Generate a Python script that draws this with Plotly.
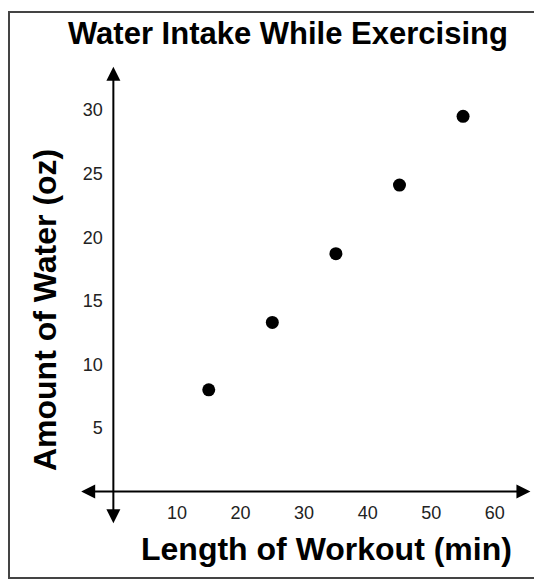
import plotly.graph_objects as go

# Data
workout_min = [15, 25, 35, 45, 55]
water_oz = [8.0, 13.3, 18.7, 24.1, 29.5]
x_ticks = [10, 20, 30, 40, 50, 60]
y_ticks = [5, 10, 15, 20, 25, 30]

title_text = "Water Intake While Exercising"
x_title = "Length of Workout (min)"
y_title = "Amount of Water (oz)"

FONT = "Arial, Liberation Sans, Helvetica, sans-serif"

x_range = [-6.82, 67.1]
y_range = [-3.02, 33.93]

fig = go.Figure()
fig.add_trace(go.Scatter(
    x=workout_min, y=water_oz, mode="markers",
    marker=dict(color="black", size=13),
    showlegend=False, hoverinfo="x+y",
))

xpos = (0 - y_range[0]) / (y_range[1] - y_range[0])
ypos = (0 - x_range[0]) / (x_range[1] - x_range[0])

# page body has an 8px margin, so the figure is 8px smaller and offset
fig.update_layout(
    width=534, height=571,
    margin=dict(l=62, r=2, t=52, b=49),
    paper_bgcolor="white", plot_bgcolor="white",
    xaxis=dict(range=x_range, tickvals=x_ticks, showgrid=False, zeroline=False,
               showline=False, anchor="free", position=xpos,
               ticks="outside", ticklen=5, tickcolor="rgba(0,0,0,0)",
               tickfont=dict(family=FONT, size=18, color="#222")),
    yaxis=dict(range=y_range, tickvals=y_ticks, showgrid=False, zeroline=False,
               showline=False, anchor="free", position=ypos,
               ticks="outside", ticklen=7, tickcolor="rgba(0,0,0,0)",
               tickfont=dict(family=FONT, size=18, color="#222")),
)

# Axis lines with arrowheads at both ends
fig.add_annotation(x=65.6, y=0, ax=-5.3, ay=0, xref="x", yref="y",
                   axref="x", ayref="y", text="", showarrow=True,
                   arrowhead=2, arrowside="end+start", arrowsize=1.4,
                   arrowwidth=2, arrowcolor="black")
fig.add_annotation(x=0, y=33.4, ax=0, ay=-2.6, xref="x", yref="y",
                   axref="x", ayref="y", text="", showarrow=True,
                   arrowhead=2, arrowside="end+start", arrowsize=1.4,
                   arrowwidth=2, arrowcolor="black")

# Titles
fig.add_annotation(text=title_text, xref="paper", yref="paper", x=0.4638, y=1.0574,
                   xanchor="center", yanchor="middle", showarrow=False,
                   font=dict(family=FONT, size=31, color="black", weight="bold"))
fig.add_annotation(text=x_title, xref="paper", yref="paper", x=0.5468, y=-0.0404,
                   xanchor="center", yanchor="middle", showarrow=False,
                   font=dict(family=FONT, size=32, color="black", weight="bold"))
fig.add_annotation(text=y_title, xref="paper", yref="paper", x=-0.0532, y=0.468,
                   xanchor="center", yanchor="middle", showarrow=False, textangle=-90,
                   font=dict(family=FONT, size=32, color="black", weight="bold"))

# Outer frame
fig.add_shape(type="rect", xref="paper", yref="paper",
              x0=-0.1298, x1=0.9936, y0=-0.102, y1=1.102,
              line=dict(color="#444", width=2), fillcolor="rgba(0,0,0,0)", layer="below")

fig.write_html("out.html")
